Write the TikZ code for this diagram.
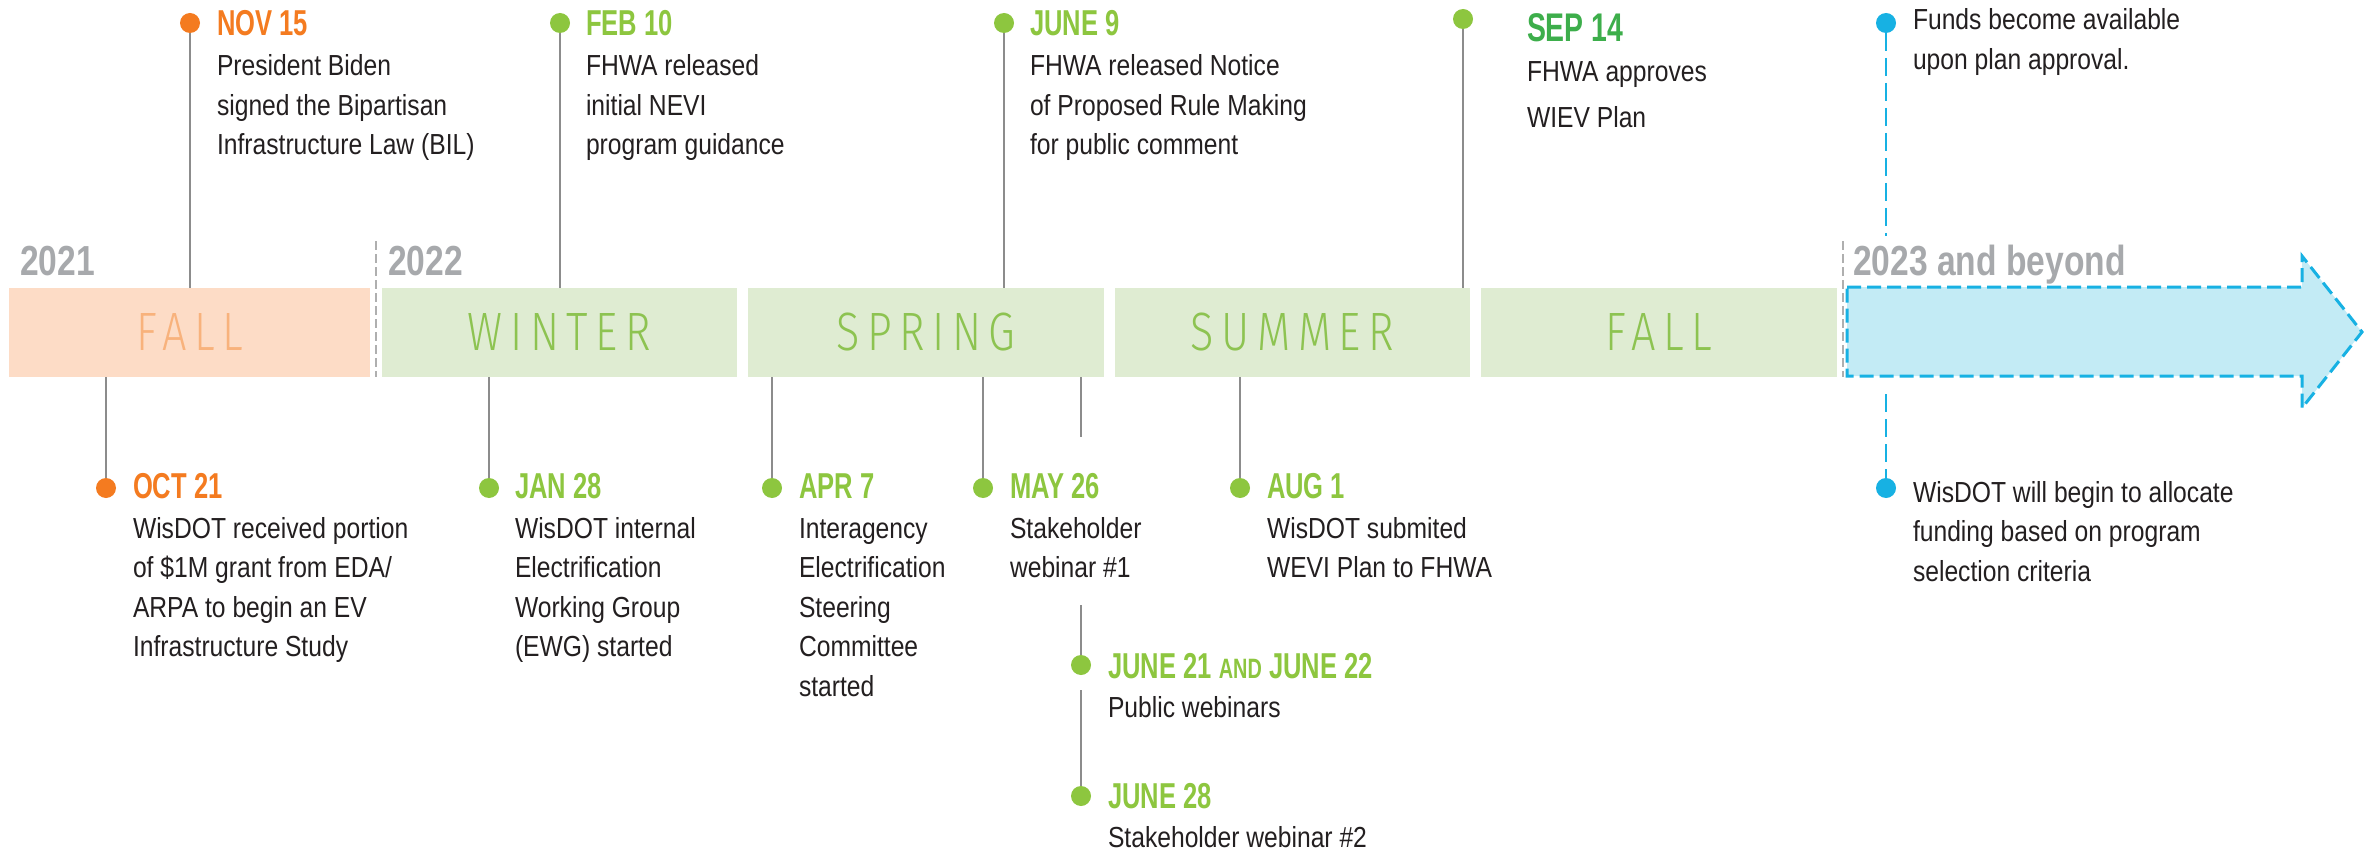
\documentclass[tikz,border=0pt]{standalone}
\usepackage{fontspec}
\setmainfont{Liberation Sans}
\newfontfamily\bodyf{Liberation Sans}[FakeStretch=0.85]
\newfontfamily\datef{Liberation Sans}[FakeStretch=0.71]
\newfontfamily\yearf{Liberation Sans}[FakeStretch=0.8]
\newfontfamily\seasonf{Fira Sans Light}[FakeStretch=0.8,LetterSpace=14]

\definecolor{orng}{HTML}{F47B20}
\definecolor{peach}{HTML}{FDDCC6}
\definecolor{falltxt}{HTML}{F8B27C}
\definecolor{grn}{HTML}{8DC63F}
\definecolor{grnbox}{HTML}{DFECD2}
\definecolor{grntxt}{HTML}{8DC351}
\definecolor{dkgrn}{HTML}{3DAE4B}
\definecolor{yeargray}{HTML}{A7A9AC}
\definecolor{linegray}{HTML}{8C8C8C}
\definecolor{skyblue}{HTML}{17B1E3}
\definecolor{skyfill}{HTML}{C3EBF5}
\definecolor{ink}{HTML}{231F20}

\tikzset{
  every node/.style={inner sep=0pt, outer sep=0pt},
  dot/.style={circle, minimum size=20pt, draw=none},
  conn/.style={draw=linegray, line width=2pt},
  bluedash/.style={draw=skyblue, line width=2.5pt, dash pattern=on 18pt off 7pt},
  divider/.style={draw=linegray!70, line width=1.5pt, dash pattern=on 9pt off 4pt},
  seasonbox/.style={draw=none, minimum height=89pt,
    font=\seasonf\fontsize{54}{60}\selectfont},
  datet/.style={anchor=base west, font=\datef\bfseries\fontsize{36}{40}\selectfont},
  bodyt/.style={anchor=base west, text=ink, font=\bodyf\fontsize{29}{39.5}\selectfont},
  yeart/.style={anchor=base west, text=yeargray, font=\yearf\bfseries\fontsize{42}{46}\selectfont},
}

\newcommand\rows[1]{\begin{tabular}[t]{@{}l@{}}#1\end{tabular}}

\begin{document}
\begin{tikzpicture}[x=1pt, y=-1pt]
\fill[white] (0,0) rectangle (2377,853);
\useasboundingbox (0,0) rectangle (2377,853);

% season band
\node[seasonbox, fill=peach, text=falltxt, minimum width=361pt] (fall21) at (189.5,332.5) {FALL};
\node[seasonbox, fill=grnbox, text=grntxt, minimum width=355pt] (winter) at (559.5,332.5) {WINTER};
\node[seasonbox, fill=grnbox, text=grntxt, minimum width=356pt] (spring) at (926,332.5) {SPRING};
\node[seasonbox, fill=grnbox, text=grntxt, minimum width=355pt] (summer) at (1292.5,332.5) {SUMMER};
\node[seasonbox, fill=grnbox, text=grntxt, minimum width=356pt] (fall22) at (1659,332.5) {FALL};

% future arrow
\draw[skyblue, fill=skyfill, line width=3pt, dash pattern=on 14pt off 6pt]
  (1847,287) -- (2302,287) -- (2302,256) -- (2362,332) -- (2302,408)
  -- (2302,376) -- (1847,376) -- cycle;

% year dividers
\coordinate (div22top) at (376,241);
\coordinate (div23top) at (1843,241);
\draw[divider] (div22top) -- (div22top |- fall21.south);
\draw[divider] (div23top) -- (div23top |- fall21.south);

% years
\node[yeart] (y21) at (20,275) {2021};
\node[yeart] (y22) at (388,275) {2022};
\node[yeart] (y23) at (1853,275) {2023 and beyond};

% events above the band
\node[dot, fill=orng] (nov15) at (190,23) {};
\node[dot, fill=grn] (feb10) at (560,23) {};
\node[dot, fill=grn] (jun9) at (1004,23) {};
\node[dot, fill=grn] (sep14) at (1463,19) {};
\node[dot, fill=skyblue] (funds) at (1886,23) {};

\draw[conn] (nov15) -- (nov15 |- fall21.north);
\draw[conn] (feb10) -- (feb10 |- winter.north);
\draw[conn] (jun9) -- (jun9 |- spring.north);
\draw[conn] (sep14) -- (sep14 |- summer.north);
\coordinate (fundsgap) at (1886,236);
\draw[bluedash] (funds) -- (fundsgap);

\node[datet, text=orng] (nov15d) at (217,36) {NOV 15};
\node[bodyt] (nov15b) at (217,76) {\rows{President Biden\\signed the Bipartisan\\Infrastructure Law (BIL)}};

\node[datet, text=grn] (feb10d) at (586,36) {FEB 10};
\node[bodyt] (feb10b) at (586,76) {\rows{FHWA released\\initial NEVI\\program guidance}};

\node[datet, text=grn] (jun9d) at (1030,36) {JUNE 9};
\node[bodyt] (jun9b) at (1030,76) {\rows{FHWA released Notice\\of Proposed Rule Making\\for public comment}};

\node[datet, text=dkgrn, font=\datef\bfseries\fontsize{40}{44}\selectfont] (sep14d) at (1527,42) {SEP 14};
\node[bodyt, font=\bodyf\fontsize{29}{46}\selectfont] (sep14b) at (1527,82) {\rows{FHWA approves\\WIEV Plan}};

\node[bodyt] (fundsb) at (1913,30) {\rows{Funds become available\\upon plan approval.}};

% events below the band
\node[dot, fill=orng] (oct21) at (106,488) {};
\node[dot, fill=grn] (jan28) at (489,488) {};
\node[dot, fill=grn] (apr7) at (772,488) {};
\node[dot, fill=grn] (may26) at (983,488) {};
\node[dot, fill=grn] (aug1) at (1240,488) {};
\node[dot, fill=grn] (jun21) at (1081,665) {};
\node[dot, fill=grn] (jun28) at (1081,796) {};
\node[dot, fill=skyblue] (alloc) at (1886,488) {};

\draw[conn] (oct21 |- fall21.south) -- (oct21);
\draw[conn] (jan28 |- winter.south) -- (jan28);
\draw[conn] (apr7 |- winter.south) -- (apr7);
\draw[conn] (may26 |- spring.south) -- (may26);
\draw[conn] (aug1 |- summer.south) -- (aug1);
\coordinate (tick) at (1081,437);
\draw[conn] (tick |- spring.south) -- (tick);
\coordinate (j21top) at (1081,605);
\draw[conn] (j21top) -- (jun21);
\coordinate (j28top) at (1081,690);
\draw[conn] (j28top) -- (jun28);
\coordinate (allocgap) at (1886,394);
\draw[bluedash] (allocgap) -- (alloc);

\node[datet, text=orng] (oct21d) at (133,498) {OCT 21};
\node[bodyt] (oct21b) at (133,538) {\rows{WisDOT received portion\\of \$1M grant from EDA/\\ARPA to begin an EV\\Infrastructure Study}};

\node[datet, text=grn] (jan28d) at (515,498) {JAN 28};
\node[bodyt] (jan28b) at (515,538) {\rows{WisDOT internal\\Electrification\\Working Group\\(EWG) started}};

\node[datet, text=grn] (apr7d) at (799,498) {APR 7};
\node[bodyt] (apr7b) at (799,538) {\rows{Interagency\\Electrification\\Steering\\Committee\\started}};

\node[datet, text=grn] (may26d) at (1010,498) {MAY 26};
\node[bodyt] (may26b) at (1010,538) {\rows{Stakeholder\\webinar \#1}};

\node[datet, text=grn] (aug1d) at (1267,498) {AUG 1};
\node[bodyt] (aug1b) at (1267,538) {\rows{WisDOT submited\\WEVI Plan to FHWA}};

\node[datet, text=grn] (jun21d) at (1108,678) {JUNE 21 {\fontsize{28}{30}\selectfont AND} JUNE 22};
\node[bodyt] (jun21b) at (1108,717) {Public webinars};

\node[datet, text=grn] (jun28d) at (1108,808) {JUNE 28};
\node[bodyt] (jun28b) at (1108,847) {Stakeholder webinar \#2};

\node[bodyt] (allocb) at (1913,502) {\rows{WisDOT will begin to allocate\\funding based on program\\selection criteria}};
\end{tikzpicture}
\end{document}
